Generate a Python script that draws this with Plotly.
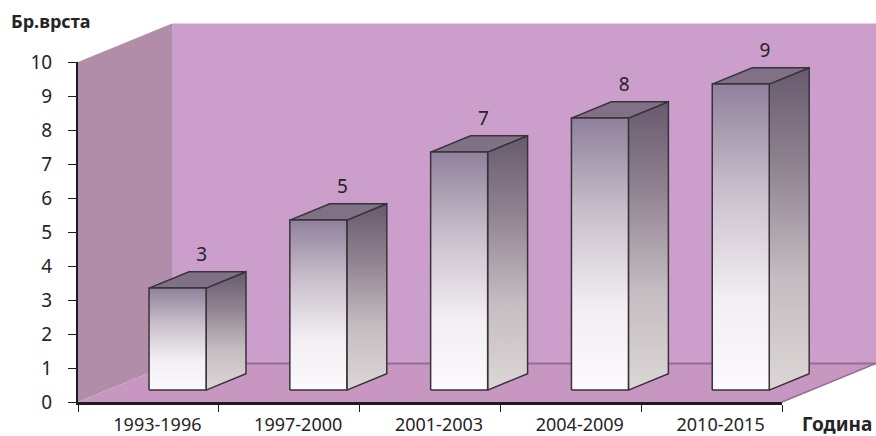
import plotly.graph_objects as go

# ---- data ----
categories = ["1993-1996", "1997-2000", "2001-2003", "2004-2009", "2010-2015"]
values = [3, 5, 7, 8, 9]
y_ticks = list(range(0, 11))
y_title = "Бр.врста"
x_title = "Година"

# ---- layout geometry (pixels) ----
W, H = 876, 436
PL, PR, PT, PB = 78, 782, 62, 402          # plot area of the visible axes
YMAX = 10
n = len(categories)
px_per_cat = (PR - PL) / n
px_per_unit = (PB - PT) / YMAX
DEPTH_PX = (94, 38.5)                        # 3-D depth vector in pixels
DX = DEPTH_PX[0] / px_per_cat
DY = DEPTH_PX[1] / px_per_unit
F0, F1 = 0.31, 0.735                         # bar depth (front / back fraction)
HW = 28.5 / px_per_cat                       # half bar width

FONT = "Noto Sans, sans-serif"
TXT = "#262326"
EDGE = "#383338"

fig = go.Figure()

def poly(xs, ys, fill=None, line="rgba(0,0,0,0)", lw=0, grad=None):
    kw = dict(x=xs + [xs[0]], y=ys + [ys[0]], mode="lines", fill="toself",
              line=dict(color=line, width=lw), hoverinfo="skip",
              showlegend=False, xaxis="x", yaxis="y")
    if grad is not None:
        kw["fillgradient"] = dict(type="vertical", colorscale=grad)
    else:
        kw["fillcolor"] = fill
    fig.add_trace(go.Scatter(**kw))

x0, x1 = -0.5, n - 0.5
xr_edge = x1 + (W - PR) / px_per_cat
# back wall, left wall, floor
poly([x0 + DX, xr_edge, xr_edge, x0 + DX], [DY, DY, YMAX + DY, YMAX + DY], fill="#CB9ECB")
poly([x0, x0, x0 + DX, x0 + DX], [0, YMAX, YMAX + DY, DY], fill="#B28DA9")
poly([x0, x1, x1 + DX, x0 + DX], [0, 0, DY, DY], fill="#C797C1")
fig.add_trace(go.Scatter(x=[x0 + DX, x1 + DX], y=[DY, DY], mode="lines",
                         line=dict(color="#946E90", width=2), hoverinfo="skip",
                         showlegend=False, xaxis="x", yaxis="y"))
fig.add_trace(go.Scatter(x=[x1, x1 + DX], y=[0, DY], mode="lines",
                         line=dict(color="#946E90", width=1.5), hoverinfo="skip",
                         showlegend=False, xaxis="x", yaxis="y"))

front_grad = [[0, "#FCFAFC"], [0.3, "#F2EEF2"], [0.65, "#C9BFCC"], [1, "#8F819B"]]
side_grad = [[0, "#DDD6D6"], [0.35, "#C4BCC0"], [0.7, "#8F8290"], [1, "#675A6E"]]

for i, v in enumerate(values):
    xl = i - HW + F0 * DX
    xr = i + HW + F0 * DX
    ddx = (F1 - F0) * DX
    yb0 = F0 * DY
    yb1 = F1 * DY
    poly([xr, xr + ddx, xr + ddx, xr], [yb0, yb1, v + yb1, v + yb0],
         line=EDGE, lw=1.5, grad=side_grad)
    poly([xl, xr, xr + ddx, xl + ddx], [v + yb0, v + yb0, v + yb1, v + yb1],
         fill="#807186", line=EDGE, lw=1.5)
    poly([xl, xr, xr, xl], [yb0, yb0, v + yb0, v + yb0],
         line=EDGE, lw=1.5, grad=front_grad)

# value labels
fig.add_trace(go.Scatter(
    x=[i + (F0 + F1) / 2 * DX + 0.03 for i in range(n)],
    y=[v + 1.3 for v in values],
    text=[str(v) for v in values], mode="text",
    textfont=dict(family=FONT, size=19, color=TXT),
    hoverinfo="skip", showlegend=False, xaxis="x", yaxis="y"))

# invisible trace defining the visible category axis
fig.add_trace(go.Scatter(x=categories, y=values, mode="markers",
                         marker=dict(opacity=0), hoverinfo="skip",
                         showlegend=False, xaxis="x2", yaxis="y2"))

fig.update_layout(
    width=W, height=H, autosize=False,
    margin=dict(l=0, r=0, t=0, b=0, pad=0, autoexpand=False),
    paper_bgcolor="white", plot_bgcolor="rgba(0,0,0,0)",
    font=dict(family=FONT, size=18, color=TXT),
    showlegend=False,
    xaxis=dict(domain=[0, 1], range=[x0 - PL / px_per_cat, xr_edge],
               visible=False, fixedrange=True),
    yaxis=dict(domain=[0, 1], range=[-(H - PB) / px_per_unit, YMAX + PT / px_per_unit],
               visible=False, fixedrange=True),
    xaxis2=dict(domain=[PL / W, PR / W], anchor="y2", type="category",
                categoryarray=categories, range=[x0, x1],
                showline=True, linecolor="#1e1a1e", linewidth=2.5,
                ticks="outside", ticklen=7, tickwidth=1.2, tickcolor="#1e1a1e",
                tickson="boundaries", showgrid=False, zeroline=False,
                ticklabelstandoff=5, ticklabelshift=9,
                tickfont=dict(family=FONT, size=18, color=TXT)),
    yaxis2=dict(domain=[1 - PB / H, 1 - PT / H], anchor="x2", range=[0, YMAX],
                tickvals=y_ticks, showline=True, linecolor="#1e1a1e", linewidth=2,
                ticks="outside", ticklen=8, tickwidth=1.2, tickcolor="#1e1a1e",
                showgrid=False, zeroline=False, ticklabelstandoff=12,
                tickfont=dict(family=FONT, size=19, color=TXT)),
    annotations=[
        dict(text=f"<b>{y_title}</b>", xref="paper", yref="paper",
             x=9 / W, y=1 - 21 / H, xanchor="left", yanchor="middle",
             showarrow=False, font=dict(family=FONT, size=18, color=TXT)),
        dict(text=f"<b>{x_title}</b>", xref="paper", yref="paper",
             x=874 / W, y=1 - 424 / H, xanchor="right", yanchor="middle",
             showarrow=False, font=dict(family=FONT, size=19, color=TXT)),
    ],
)

fig.write_html("out.html", config={"responsive": False})
